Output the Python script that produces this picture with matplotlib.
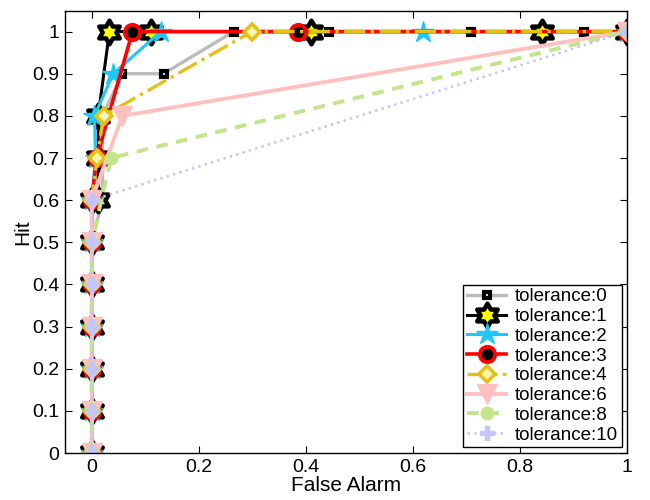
import numpy as np
import matplotlib
matplotlib.use("Agg")
import matplotlib.pyplot as plt
from matplotlib.path import Path

plt.rcParams['font.family'] = ['Liberation Sans', 'DejaVu Sans']

# ---- data (False Alarm, Hit) ----
fa_t0 = [0, 0, 0, 0, 0, 0, 0.02, 0.02, 0.02, 0.057, 0.134, 0.265, 0.443, 0.708, 0.919, 1.0]
hit_t0 = [0, 0.1, 0.2, 0.3, 0.4, 0.5, 0.6, 0.7, 0.8, 0.9, 0.9, 1.0, 1.0, 1.0, 1.0, 1.0]

fa_t1 = [0, 0, 0, 0, 0, 0, 0, 0.012, 0.012, 0.012, 0.033, 0.11, 0.41, 0.84, 1.0]
hit_t1 = [0, 0.1, 0.2, 0.3, 0.4, 0.5, 0.6, 0.6, 0.7, 0.8, 1.0, 1.0, 1.0, 1.0, 1.0]

fa_t2 = [0, 0, 0, 0, 0, 0, 0, 0.007, 0.005, 0.04, 0.129, 0.618, 1.0]
hit_t2 = [0, 0.1, 0.2, 0.3, 0.4, 0.5, 0.6, 0.7, 0.8, 0.9, 1.0, 1.0, 1.0]

fa_t3 = [0, 0, 0, 0, 0, 0, 0, 0.009, 0.076, 0.386, 1.0]
hit_t3 = [0, 0.1, 0.2, 0.3, 0.4, 0.5, 0.6, 0.7, 1.0, 1.0, 1.0]

fa_t4 = [0, 0, 0, 0, 0, 0, 0, 0.01, 0.022, 0.299, 1.0]
hit_t4 = [0, 0.1, 0.2, 0.3, 0.4, 0.5, 0.6, 0.7, 0.8, 1.0, 1.0]

fa_t6 = [0, 0, 0, 0, 0, 0, 0, 0.057, 1.0]
hit_t6 = [0, 0.1, 0.2, 0.3, 0.4, 0.5, 0.6, 0.8, 1.0]

fa_t8 = [0, 0, 0, 0, 0, 0, 0.036, 1.0]
hit_t8 = [0, 0.1, 0.2, 0.3, 0.4, 0.5, 0.7, 1.0]

fa_t10 = [0, 0, 0, 0, 0, 0, 0, 1.0]
hit_t10 = [0, 0.1, 0.2, 0.3, 0.4, 0.5, 0.6, 1.0]

labels = ['tolerance:0', 'tolerance:1', 'tolerance:2', 'tolerance:3',
          'tolerance:4', 'tolerance:6', 'tolerance:8', 'tolerance:10']

# hexagram marker
ang = np.pi / 2 + np.arange(12) * np.pi / 6
rad = np.array([1.0 if i % 2 == 0 else 1 / np.sqrt(3) for i in range(12)])
verts = np.column_stack([rad * np.cos(ang), rad * np.sin(ang)])
verts = np.vstack([verts, verts[:1]])
codes = [Path.MOVETO] + [Path.LINETO] * 11 + [Path.CLOSEPOLY]
hexagram = Path(verts, codes)

fig = plt.figure(figsize=(6.5, 5), dpi=100)
ax = fig.add_axes([0.1, 0.094, 0.865, 0.885])

ax.plot(fa_t0, hit_t0, color='#b8bcbc', lw=2.4, marker='s', ms=5,
        mfc='white', mec='black', mew=3.0, label=labels[0])
ax.plot(fa_t1, hit_t1, color='black', lw=2.2, marker=hexagram, ms=17,
        mfc='#ffff00', mec='black', mew=3.2, label=labels[1])
ax.plot(fa_t2, hit_t2, color='#1ec8f5', lw=2.2, marker='*', ms=16,
        mfc='#1ec8f5', mec='#1ec8f5', mew=1, label=labels[2])
ax.plot(fa_t3, hit_t3, color='#ff0000', lw=2.6, marker='o', ms=11,
        mfc='black', mec='#ff0000', mew=2.8, label=labels[3])
ax.plot(fa_t4, hit_t4, color='#e2c21a', lw=2.4, ls='-.', marker='D', ms=8,
        mfc='#fff4b0', mec='#e2c21a', mew=2.6, label=labels[4])
ax.plot(fa_t6, hit_t6, color='#ffc0c0', lw=2.8, marker='v', ms=14,
        mfc='#ffc0c0', mec='#ffc0c0', mew=1, label=labels[5])
ax.plot(fa_t8, hit_t8, color='#c4e48a', lw=2.8, ls=(0, (3, 2.2)), marker='o', ms=9,
        mfc='#c4e48a', mec='#c4e48a', mew=1, label=labels[6])
ax.plot(fa_t10, hit_t10, color='#c4c4ff', lw=1.8, ls=':', marker='P', ms=10,
        mfc='#c4c4ff', mec='#c4c4ff', mew=1, label=labels[7])

ax.set_xlim(-0.05, 1.0)
ax.set_ylim(0, 1.05)
ax.set_xticks([0, 0.2, 0.4, 0.6, 0.8, 1.0])
ax.set_xticklabels(['0', '0.2', '0.4', '0.6', '0.8', '1'])
yt = [0, 0.1, 0.2, 0.3, 0.4, 0.5, 0.6, 0.7, 0.8, 0.9, 1.0]
ax.set_yticks(yt)
ax.set_yticklabels(['0', '0.1', '0.2', '0.3', '0.4', '0.5', '0.6', '0.7', '0.8', '0.9', '1'])
ax.tick_params(direction='in', top=True, right=True, length=5, width=0.8,
               labelsize=14, pad=4)
for s in ax.spines.values():
    s.set_linewidth(1.0)

ax.set_xlabel('False Alarm', fontsize=15, labelpad=0)
ax.set_ylabel('Hit', fontsize=15, labelpad=0)

leg = ax.legend(loc='lower right', fontsize=13.5, fancybox=False, framealpha=1,
                edgecolor='black', handlelength=2.1, labelspacing=0.14,
                handletextpad=0.45, borderpad=0.2, borderaxespad=0.3)
leg.get_frame().set_linewidth(1.0)

fig.savefig('out.png', dpi=100)
